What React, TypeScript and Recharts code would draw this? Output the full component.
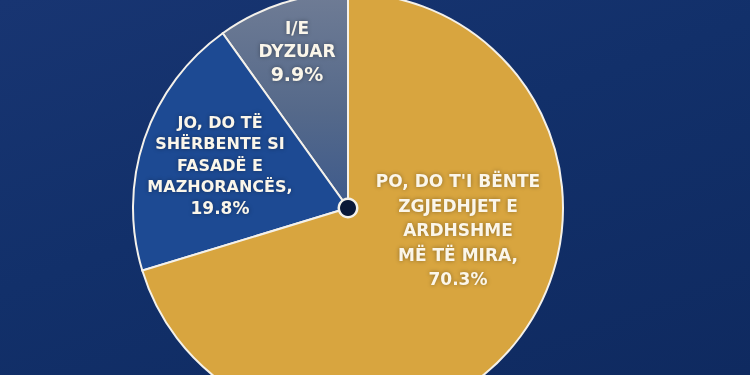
import { PieChart, Pie, Cell } from 'recharts';

// Survey answers, listed counter-clockwise starting at 12 o'clock
const ANSWERS = ['I/E DYZUAR', 'JO, DO TË SHËRBENTE SI FASADË E MAZHORANCËS', "PO, DO T'I BËNTE ZGJEDHJET E ARDHSHME MË TË MIRA"];
const SHARES = [9.9, 19.8, 70.3];
const LABEL_LINES = [
  ['I/E', 'DYZUAR'],
  ['JO, DO TË', 'SHËRBENTE SI', 'FASADË E', 'MAZHORANCËS,'],
  ["PO, DO T'I BËNTE", 'ZGJEDHJET E', 'ARDHSHME', 'MË TË MIRA,'],
];
const SLICE_COLORS = ['url(#grayFill)', '#1d4a93', '#d8a53f'];

// label block placement relative to the pie centre (layout only)
const LABEL_LAYOUT = [
  { dx: -51, dy: 29, size: 17, pctSize: 19, gap: 23 },
  { dx: -128, dy: 123, size: 16, pctSize: 17, gap: 21.5 },
  { dx: 110, dy: 182, size: 17, pctSize: 17, gap: 24.5 },
];

const CX = 348;
const CY = 208;

const chartData = ANSWERS.map((name, i) => ({ name, value: SHARES[i] }));

const renderLabel = (props: any) => {
  const { index, cx } = props;
  const layout = LABEL_LAYOUT[index];
  const lines = [...LABEL_LINES[index], `${SHARES[index].toFixed(1)}%`];
  const x = cx + layout.dx;
  return (
    <text
      key={`lbl-${index}`}
      x={x}
      y={layout.dy}
      textAnchor="middle"
      fill="#fbf6ea"
      fontFamily="'DejaVu Sans', sans-serif"
      fontWeight={700}
      style={{ filter: 'drop-shadow(0 0 2px rgba(0,0,0,0.35))' }}
    >
      {lines.map((line, i) => (
        <tspan
          key={i}
          x={x}
          y={layout.dy + i * layout.gap}
          dominantBaseline="middle"
          fontSize={i === lines.length - 1 ? layout.pctSize : layout.size}
        >
          {line}
        </tspan>
      ))}
    </text>
  );
};

const App = () => {
  return (
    <div
      style={{
        position: 'fixed',
        left: 0,
        top: 0,
        width: 750,
        height: 375,
        overflow: 'hidden',
        background: 'linear-gradient(160deg, #183572 0%, #12306a 45%, #0f2a60 100%)',
      }}
    >
      <PieChart width={750} height={375} margin={{ top: 0, right: 0, bottom: 0, left: 0 }}>
        <defs>
          <linearGradient id="grayFill" x1="0" y1="0" x2="0" y2="1">
            <stop offset="0%" stopColor="#6f7c95" />
            <stop offset="55%" stopColor="#55698a" />
            <stop offset="100%" stopColor="#3d5a8c" />
          </linearGradient>
        </defs>
        <Pie
          data={chartData}
          dataKey="value"
          nameKey="name"
          cx={CX}
          cy={CY}
          innerRadius={0}
          outerRadius={215}
          startAngle={90}
          endAngle={450}
          stroke="#f4f1ea"
          strokeWidth={2}
          labelLine={false}
          label={renderLabel}
          isAnimationActive={false}
        >
          {chartData.map((entry, index) => (
            <Cell key={`cell-${index}`} fill={SLICE_COLORS[index]} />
          ))}
        </Pie>
        {/* hub dot in the middle: white ring then dark core */}
        <Pie
          data={[{ name: 'ring', value: 1 }]}
          dataKey="value"
          cx={CX}
          cy={CY}
          innerRadius={0}
          outerRadius={10.5}
          fill="#f4f1ea"
          stroke="none"
          isAnimationActive={false}
        />
        <Pie
          data={[{ name: 'core', value: 1 }]}
          dataKey="value"
          cx={CX}
          cy={CY}
          innerRadius={0}
          outerRadius={8}
          fill="#0a1838"
          stroke="none"
          isAnimationActive={false}
        />
      </PieChart>
    </div>
  );
};

export default App;
